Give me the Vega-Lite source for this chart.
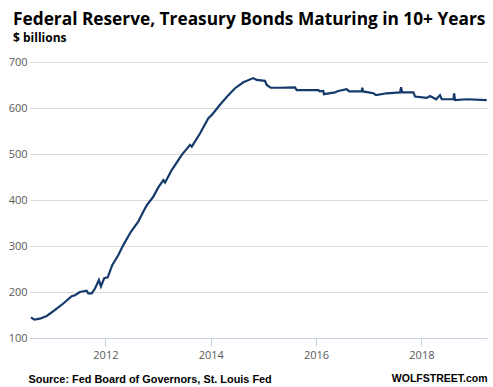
{
  "$schema": "https://vega.github.io/schema/vega-lite/v6.json",
  "width": 457,
  "height": 276,
  "autosize": {"type": "none"},
  "padding": {"left": 30, "top": 62, "right": 6, "bottom": 49},
  "background": "white",
  "title": {
    "text": "Federal Reserve, Treasury Bonds Maturing in 10+ Years",
    "subtitle": "$ billions",
    "anchor": "start",
    "frame": "group",
    "dx": -17,
    "font": "Open Sans",
    "fontSize": 17.3,
    "fontWeight": "bold",
    "color": "#000000",
    "subtitleFont": "Open Sans",
    "subtitleFontSize": 12,
    "subtitleFontWeight": "bold",
    "subtitleColor": "#000000",
    "subtitlePadding": 5,
    "offset": 12
  },
  "data": {
    "values": [
      {"date": "2010-08-03", "value": 145},
      {"date": "2010-08-26", "value": 140},
      {"date": "2010-10-04", "value": 142},
      {"date": "2010-11-20", "value": 148},
      {"date": "2011-01-17", "value": 161},
      {"date": "2011-03-15", "value": 175},
      {"date": "2011-05-12", "value": 191},
      {"date": "2011-06-04", "value": 193},
      {"date": "2011-07-08", "value": 200},
      {"date": "2011-08-24", "value": 203},
      {"date": "2011-09-04", "value": 197},
      {"date": "2011-09-28", "value": 197},
      {"date": "2011-10-20", "value": 207},
      {"date": "2011-11-17", "value": 226},
      {"date": "2011-12-01", "value": 212},
      {"date": "2011-12-24", "value": 230},
      {"date": "2012-01-17", "value": 232},
      {"date": "2012-02-18", "value": 259},
      {"date": "2012-03-30", "value": 280},
      {"date": "2012-05-04", "value": 302},
      {"date": "2012-06-26", "value": 331},
      {"date": "2012-08-16", "value": 353},
      {"date": "2012-09-26", "value": 378},
      {"date": "2012-10-15", "value": 389},
      {"date": "2012-11-28", "value": 407},
      {"date": "2013-01-03", "value": 428},
      {"date": "2013-02-06", "value": 443},
      {"date": "2013-02-18", "value": 438},
      {"date": "2013-04-05", "value": 465},
      {"date": "2013-06-14", "value": 498},
      {"date": "2013-08-10", "value": 520},
      {"date": "2013-08-22", "value": 516},
      {"date": "2013-10-19", "value": 545},
      {"date": "2013-12-15", "value": 578},
      {"date": "2014-01-08", "value": 585},
      {"date": "2014-03-06", "value": 607},
      {"date": "2014-05-03", "value": 628},
      {"date": "2014-06-18", "value": 643},
      {"date": "2014-08-15", "value": 656},
      {"date": "2014-10-23", "value": 665},
      {"date": "2014-11-15", "value": 661},
      {"date": "2015-01-12", "value": 659},
      {"date": "2015-01-24", "value": 650},
      {"date": "2015-02-20", "value": 644},
      {"date": "2015-04-26", "value": 644},
      {"date": "2015-08-08", "value": 645},
      {"date": "2015-08-20", "value": 639},
      {"date": "2016-01-17", "value": 639},
      {"date": "2016-01-28", "value": 636},
      {"date": "2016-02-20", "value": 637},
      {"date": "2016-02-25", "value": 630},
      {"date": "2016-05-11", "value": 634},
      {"date": "2016-06-03", "value": 637},
      {"date": "2016-08-01", "value": 641},
      {"date": "2016-08-18", "value": 636},
      {"date": "2016-11-13", "value": 636},
      {"date": "2016-11-17", "value": 644},
      {"date": "2016-11-22", "value": 636},
      {"date": "2017-02-02", "value": 632},
      {"date": "2017-02-20", "value": 628},
      {"date": "2017-05-06", "value": 632},
      {"date": "2017-08-06", "value": 634},
      {"date": "2017-08-13", "value": 645},
      {"date": "2017-08-20", "value": 634},
      {"date": "2017-11-06", "value": 634},
      {"date": "2017-11-18", "value": 625},
      {"date": "2018-02-07", "value": 622},
      {"date": "2018-03-02", "value": 626},
      {"date": "2018-04-13", "value": 619},
      {"date": "2018-05-10", "value": 628},
      {"date": "2018-05-22", "value": 619},
      {"date": "2018-08-11", "value": 619},
      {"date": "2018-08-16", "value": 632},
      {"date": "2018-08-22", "value": 617},
      {"date": "2018-11-11", "value": 619},
      {"date": "2019-03-30", "value": 617}
    ]
  },
  "mark": {"type": "line", "color": "#133a6b", "strokeWidth": 2.2, "clip": true},
  "encoding": {
    "x": {
      "field": "date",
      "type": "temporal",
      "scale": {"domain": ["2010-07-27", "2019-04-01"]},
      "axis": {
        "values": ["2012-01-01", "2014-01-01", "2016-01-01", "2018-01-01"],
        "format": "%Y",
        "grid": false,
        "domainColor": "#c5d0e0",
        "domainWidth": 1,
        "tickColor": "#c5d0e0",
        "tickSize": 8,
        "labelPadding": 3,
        "labelFont": "Open Sans",
        "labelFontSize": 11,
        "labelColor": "#595959",
        "title": "Source: Fed Board of Governors, St. Louis Fed",
        "titleFont": "Liberation Sans",
        "titleFontSize": 10.9,
        "titleFontWeight": "bold",
        "titleColor": "#000000",
        "titleAnchor": "start",
        "titleAlign": "left",
        "titleBaseline": "alphabetic",
        "titleX": -2,
        "titleY": 44
      }
    },
    "y": {
      "field": "value",
      "type": "quantitative",
      "scale": {"domain": [100, 700]},
      "axis": {
        "values": [100, 200, 300, 400, 500, 600, 700],
        "domain": false,
        "ticks": false,
        "gridColor": "#d9d9d9",
        "labelPadding": 3,
        "labelFont": "Open Sans",
        "labelFontSize": 11,
        "labelColor": "#595959",
        "title": "WOLFSTREET.com",
        "titleFont": "Liberation Sans",
        "titleFontSize": 10.5,
        "titleFontWeight": "bold",
        "titleColor": "#000000",
        "titleAngle": 0,
        "titleAlign": "right",
        "titleBaseline": "alphabetic",
        "titleX": 457,
        "titleY": 319
      }
    }
  },
  "config": {"view": {"stroke": null}}
}
